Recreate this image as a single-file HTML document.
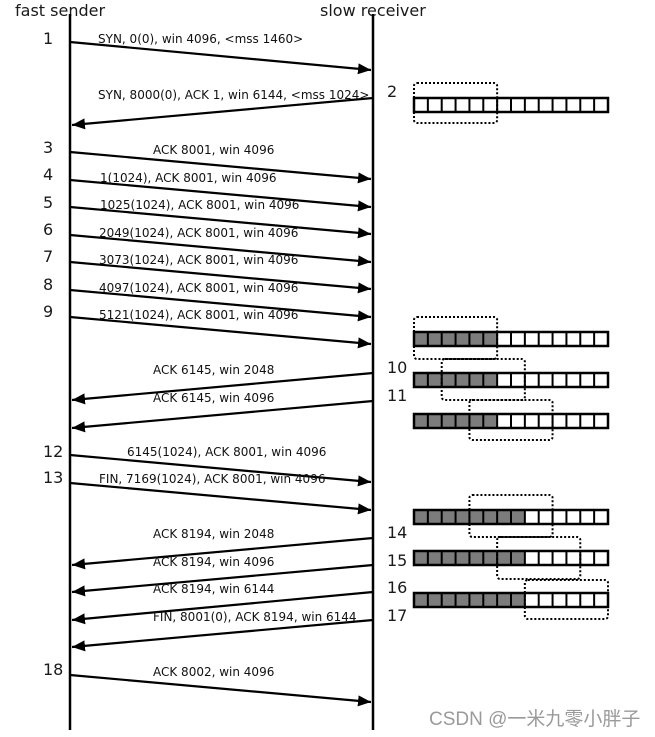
<!DOCTYPE html>
<html>
<head>
<meta charset="utf-8">
<style>
  html,body{margin:0;padding:0;background:#fff;}
  body{width:655px;height:737px;overflow:hidden;}
  svg{display:block;}
  .hdr{font-family:"DejaVu Sans","Liberation Sans",sans-serif;font-size:16px;fill:#1a1a1a;}
  .num{font-family:"DejaVu Sans","Liberation Sans",sans-serif;font-size:16px;fill:#1a1a1a;}
  .msg{font-family:"DejaVu Sans","Liberation Sans",sans-serif;font-size:12px;fill:#111;}
  .wm{font-family:"Liberation Sans","Noto Sans CJK SC",sans-serif;font-size:19px;fill:#9a9a9a;}
</style>
</head>
<body>
<svg width="655" height="737" viewBox="0 0 655 737" xmlns="http://www.w3.org/2000/svg">
  <defs>
    <marker id="ah" markerUnits="userSpaceOnUse" markerWidth="13" markerHeight="11" viewBox="0 0 13 11" refX="13" refY="5.5" orient="auto">
      <path d="M0,0 L13,5.5 L0,11 z" fill="#000"/>
    </marker>
    <path id="div" d="M427.86 0V14M441.71 0V14M455.57 0V14M469.43 0V14M483.29 0V14M497.14 0V14M511 0V14M524.86 0V14M538.71 0V14M552.57 0V14M566.43 0V14M580.29 0V14M594.14 0V14" stroke="#000" stroke-width="2" fill="none"/>
  </defs>

  <!-- headers -->
  <text class="hdr" x="15" y="16">fast sender</text>
  <text class="hdr" x="320" y="16">slow receiver</text>

  <!-- lifelines -->
  <line x1="70" y1="14" x2="70" y2="730" stroke="#000" stroke-width="2.5"/>
  <line x1="373" y1="14" x2="373" y2="730" stroke="#000" stroke-width="2.5"/>

  <!-- arrows -->
  <g stroke="#000" stroke-width="2.2" marker-end="url(#ah)">
    <line x1="70" y1="42" x2="371" y2="70"/>
    <line x1="373" y1="98" x2="72" y2="125"/>
    <line x1="70" y1="152" x2="371" y2="179"/>
    <line x1="70" y1="180" x2="371" y2="207"/>
    <line x1="70" y1="207" x2="371" y2="234"/>
    <line x1="70" y1="235" x2="371" y2="262"/>
    <line x1="70" y1="262" x2="371" y2="289"/>
    <line x1="70" y1="290" x2="371" y2="317"/>
    <line x1="70" y1="317" x2="371" y2="344"/>
    <line x1="373" y1="373" x2="72" y2="400"/>
    <line x1="373" y1="401" x2="72" y2="428"/>
    <line x1="70" y1="455" x2="371" y2="482"/>
    <line x1="70" y1="483" x2="371" y2="510"/>
    <line x1="373" y1="538" x2="72" y2="565"/>
    <line x1="373" y1="565" x2="72" y2="592"/>
    <line x1="373" y1="592" x2="72" y2="620"/>
    <line x1="373" y1="620" x2="72" y2="647"/>
    <line x1="70" y1="675" x2="371" y2="702"/>
  </g>

  <!-- left numbers -->
  <g class="num">
    <text x="43" y="44">1</text>
    <text x="43" y="153">3</text>
    <text x="43" y="180">4</text>
    <text x="43" y="208">5</text>
    <text x="43" y="235">6</text>
    <text x="43" y="262">7</text>
    <text x="43" y="290">8</text>
    <text x="43" y="317">9</text>
    <text x="43" y="457">12</text>
    <text x="43" y="483">13</text>
    <text x="43" y="675">18</text>
  </g>
  <!-- right numbers -->
  <g class="num">
    <text x="387" y="97">2</text>
    <text x="387" y="373">10</text>
    <text x="387" y="401">11</text>
    <text x="387" y="538">14</text>
    <text x="387" y="566">15</text>
    <text x="387" y="593">16</text>
    <text x="387" y="621">17</text>
  </g>

  <!-- message labels -->
  <g class="msg">
    <text x="98" y="43">SYN, 0(0), win 4096, &lt;mss 1460&gt;</text>
    <text x="98" y="99">SYN, 8000(0), ACK 1, win 6144, &lt;mss 1024&gt;</text>
    <text x="153" y="154">ACK 8001, win 4096</text>
    <text x="100" y="182">1(1024), ACK 8001, win 4096</text>
    <text x="100" y="209">1025(1024), ACK 8001, win 4096</text>
    <text x="99" y="237">2049(1024), ACK 8001, win 4096</text>
    <text x="99" y="264">3073(1024), ACK 8001, win 4096</text>
    <text x="99" y="292">4097(1024), ACK 8001, win 4096</text>
    <text x="99" y="319">5121(1024), ACK 8001, win 4096</text>
    <text x="153" y="374">ACK 6145, win 2048</text>
    <text x="153" y="402">ACK 6145, win 4096</text>
    <text x="127" y="456">6145(1024), ACK 8001, win 4096</text>
    <text x="99" y="483">FIN, 7169(1024), ACK 8001, win 4096</text>
    <text x="153" y="538">ACK 8194, win 2048</text>
    <text x="153" y="566">ACK 8194, win 4096</text>
    <text x="153" y="593">ACK 8194, win 6144</text>
    <text x="153" y="621">FIN, 8001(0), ACK 8194, win 6144</text>
    <text x="153" y="676">ACK 8002, win 4096</text>
  </g>

  <!-- buffers -->
  <g transform="translate(0,98)">
    <rect x="414" y="0" width="194" height="14" fill="#fff"/>
    <use href="#div"/>
    <rect x="414" y="0" width="194" height="14" fill="none" stroke="#000" stroke-width="2.5"/>
  </g>
  <g transform="translate(0,332)">
    <rect x="414" y="0" width="194" height="14" fill="#fff"/>
    <rect x="414" y="0" width="83.14" height="14" fill="#7c7c7c"/>
    <use href="#div"/>
    <rect x="414" y="0" width="194" height="14" fill="none" stroke="#000" stroke-width="2.5"/>
  </g>
  <g transform="translate(0,373)">
    <rect x="414" y="0" width="194" height="14" fill="#fff"/>
    <rect x="414" y="0" width="83.14" height="14" fill="#7c7c7c"/>
    <use href="#div"/>
    <rect x="414" y="0" width="194" height="14" fill="none" stroke="#000" stroke-width="2.5"/>
  </g>
  <g transform="translate(0,414)">
    <rect x="414" y="0" width="194" height="14" fill="#fff"/>
    <rect x="414" y="0" width="83.14" height="14" fill="#7c7c7c"/>
    <use href="#div"/>
    <rect x="414" y="0" width="194" height="14" fill="none" stroke="#000" stroke-width="2.5"/>
  </g>
  <g transform="translate(0,510)">
    <rect x="414" y="0" width="194" height="14" fill="#fff"/>
    <rect x="414" y="0" width="110.86" height="14" fill="#7c7c7c"/>
    <use href="#div"/>
    <rect x="414" y="0" width="194" height="14" fill="none" stroke="#000" stroke-width="2.5"/>
  </g>
  <g transform="translate(0,551)">
    <rect x="414" y="0" width="194" height="14" fill="#fff"/>
    <rect x="414" y="0" width="110.86" height="14" fill="#7c7c7c"/>
    <use href="#div"/>
    <rect x="414" y="0" width="194" height="14" fill="none" stroke="#000" stroke-width="2.5"/>
  </g>
  <g transform="translate(0,593)">
    <rect x="414" y="0" width="194" height="14" fill="#fff"/>
    <rect x="414" y="0" width="110.86" height="14" fill="#7c7c7c"/>
    <use href="#div"/>
    <rect x="414" y="0" width="194" height="14" fill="none" stroke="#000" stroke-width="2.5"/>
  </g>

  <!-- dotted windows -->
  <g fill="none" stroke="#000" stroke-width="2" stroke-dasharray="2 2">
    <rect x="414" y="83" width="83.14" height="40" rx="3"/>
    <rect x="414" y="317" width="83.14" height="42" rx="3"/>
    <rect x="441.71" y="359" width="83.14" height="41" rx="3"/>
    <rect x="469.43" y="400" width="83.14" height="40" rx="3"/>
    <rect x="469.43" y="495" width="83.14" height="42" rx="3"/>
    <rect x="497.14" y="537" width="83.14" height="42" rx="3"/>
    <rect x="524.86" y="580" width="83.14" height="39" rx="3"/>
  </g>

  <!-- watermark -->
  <text class="wm" x="429" y="725">CSDN @一米九零小胖子</text>
</svg>
</body>
</html>
